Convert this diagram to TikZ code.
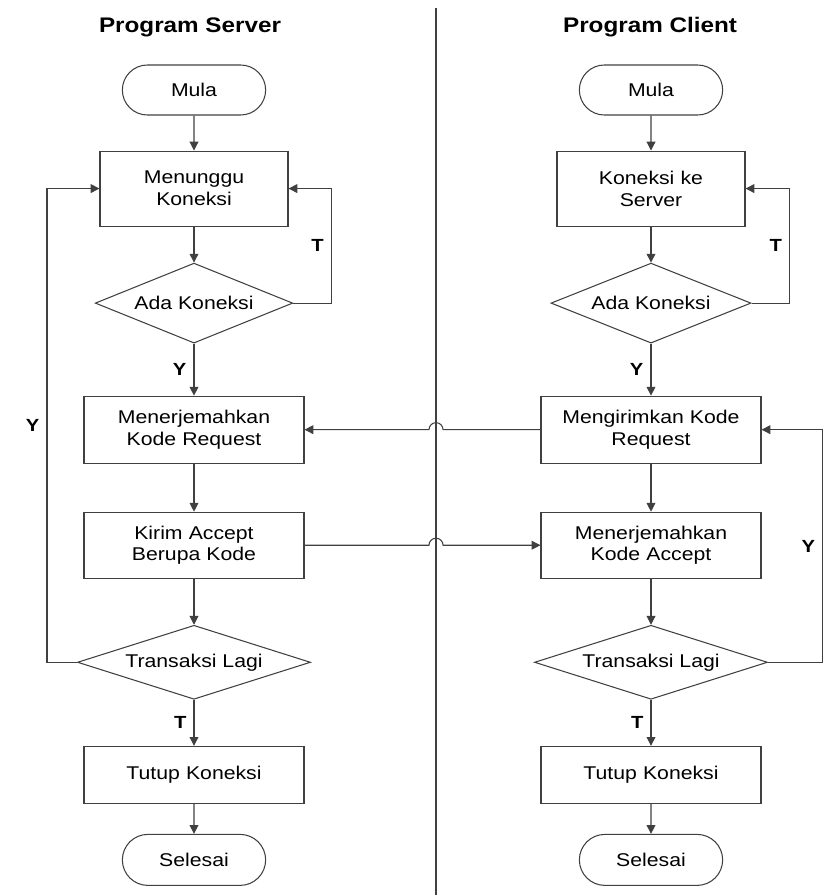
\documentclass[tikz,border=0pt]{standalone}
\usepackage{fontspec}
\setmainfont{Liberation Sans}[FakeStretch=1.15]
\usetikzlibrary{shapes,arrows.meta,positioning}

\begin{document}
\begin{tikzpicture}[node distance=1cm, auto, font=\fontsize{10.5}{12.5}\selectfont]
  % gaya kotak dan panah
  \tikzset{
   kotak/.style={
           rectangle,
           draw=black!75,
           line width=0.6pt,
           minimum width=4.4cm,
           text width=3.9cm,
           align=center},
   keputusan/.style={
           diamond,
           draw=black!75,
           line width=0.6pt,
           aspect=2.6,
           inner sep=0pt},
   terminal/.style={
           rounded rectangle,
           draw=black!75,
           line width=0.6pt,
           minimum width=3.1cm,
           minimum height=1cm},
   judul/.style={font=\fontsize{12}{14}\selectfont\bfseries},
   ket/.style={font=\fontsize{10}{12}\selectfont\bfseries, inner sep=4pt},
   % gaya panah
   panah/.style={
           -{Triangle[length=5pt,width=5pt]},
           draw=black!75,
           line width=0.6pt}
   }
  \useasboundingbox (0,0) rectangle (16.52,-17.9);

  \node[judul] (judulS) at (3.8,-0.54) {Program Server};
  \node[judul] (judulC) at (13.0,-0.54) {Program Client};
  \coordinate (garisAtas) at (8.72,-0.16);
  \coordinate (garisBawah) at (8.72,-17.9);

  % Server
  \node[terminal] (mulaS) at (3.88,-1.8) {Mula};
  \node[kotak, minimum width=3.76cm, text width=3.2cm, minimum height=1.5cm, below=0.7cm of mulaS] (tunggu) {Menunggu\\Koneksi};
  \node[keputusan, minimum width=3.95cm, minimum height=1.6cm, below=0.72cm of tunggu] (adaS) {Ada Koneksi};
  \node[kotak, minimum height=1.34cm, below=1.04cm of adaS] (terjemahReq) {Menerjemahkan\\Kode Request};
  \node[kotak, minimum height=1.32cm, below=0.96cm of terjemahReq] (kirimAcc) {Kirim Accept\\Berupa Kode};
  \node[keputusan, aspect=3.1, minimum width=4.66cm, minimum height=1.48cm, below=0.92cm of kirimAcc] (lagiS) {Transaksi Lagi};
  \node[kotak, minimum height=1.14cm, below=0.92cm of lagiS] (tutupS) {Tutup Koneksi};
  \node[terminal, minimum height=1.02cm, below=0.6cm of tutupS] (selesaiS) {Selesai};

  % Client
  \node[terminal] (mulaC) at (13.02,-1.8) {Mula};
  \node[kotak, minimum width=3.76cm, text width=3.2cm, minimum height=1.5cm, below=0.7cm of mulaC] (koneksi) {Koneksi ke\\Server};
  \node[keputusan, minimum width=4.0cm, minimum height=1.6cm, below=0.72cm of koneksi] (adaC) {Ada Koneksi};
  \node[kotak, minimum height=1.34cm, below=1.04cm of adaC] (kirimReq) {Mengirimkan Kode\\Request};
  \node[kotak, minimum height=1.32cm, below=0.96cm of kirimReq] (terjemahAcc) {Menerjemahkan\\Kode Accept};
  \node[keputusan, aspect=3.1, minimum width=4.66cm, minimum height=1.48cm, below=0.92cm of terjemahAcc] (lagiC) {Transaksi Lagi};
  \node[kotak, minimum height=1.14cm, below=0.92cm of lagiC] (tutupC) {Tutup Koneksi};
  \node[terminal, minimum height=1.02cm, below=0.6cm of tutupC] (selesaiC) {Selesai};

  \draw[black!75, line width=0.6pt] (garisAtas) -- (garisBawah);
  \coordinate (lompat1) at (kirimReq.west -| garisAtas);
  \coordinate (lompat2) at (kirimAcc.east -| garisAtas);

  \draw[panah] (mulaS) -- (tunggu);
  \draw[panah] (tunggu) -- (adaS);
  \draw[panah] (adaS.east) -- ++(0.76,0) |- node[ket, pos=0.25, left] {T} (tunggu.east);
  \draw[panah] (adaS) -- node[ket, left] {Y} (terjemahReq);
  \draw[panah] (terjemahReq) -- (kirimAcc);
  \draw[panah] (kirimAcc) -- (lagiS);
  \draw[panah] (lagiS.west) -- ++(-0.6,0) |- node[ket, pos=0.25, left] {Y} (tunggu.west);
  \draw[panah] (lagiS) -- node[ket, left] {T} (tutupS);
  \draw[panah] (tutupS) -- (selesaiS);

  \draw[panah] (mulaC) -- (koneksi);
  \draw[panah] (koneksi) -- (adaC);
  \draw[panah] (adaC.east) -- ++(0.76,0) |- node[ket, pos=0.25, left] {T} (koneksi.east);
  \draw[panah] (adaC) -- node[ket, left] {Y} (kirimReq);
  \draw[panah] (kirimReq) -- (terjemahAcc);
  \draw[panah] (terjemahAcc) -- (lagiC);
  \draw[panah] (lagiC.east) -- ++(1.09,0) |- node[ket, pos=0.25, left] {Y} (kirimReq.east);
  \draw[panah] (lagiC) -- node[ket, left] {T} (tutupC);
  \draw[panah] (tutupC) -- (selesaiC);

  \draw[panah] (kirimReq.west) -- ([xshift=4pt]lompat1) arc[start angle=0, end angle=180, radius=4pt] -- (terjemahReq.east);
  \draw[panah] (kirimAcc.east) -- ([xshift=-4pt]lompat2) arc[start angle=180, end angle=0, radius=4pt] -- (terjemahAcc.west);
\end{tikzpicture}
\end{document}
